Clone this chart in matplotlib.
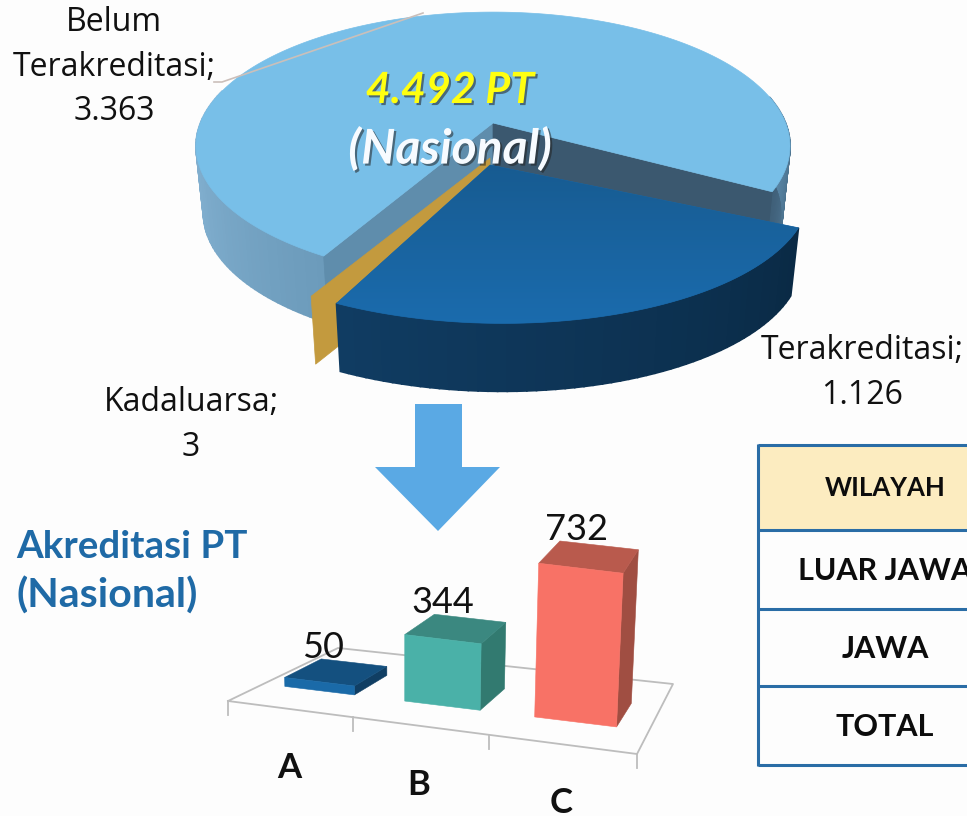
import numpy as np
import matplotlib
matplotlib.use('Agg')
import matplotlib.pyplot as plt
import matplotlib.patheffects as pe
from matplotlib.patches import Polygon

# Pie values (jumlah PT)
pie_names = ['Belum\nTerakreditasi;', 'Terakreditasi;', 'Kadaluarsa;']
pie_shown = ['3.363', '1.126', '3']
belum, terakreditasi, kadaluarsa = 3363, 1126, 3

# Bar values (peringkat akreditasi)
bar_categories = ['A', 'B', 'C']
bar_values = [50, 344, 732]

# Table (only the first column is inside the picture)
table_rows = ['WILAYAH', 'LUAR JAWA', 'JAWA', 'TOTAL']

TEXT_FONT = ['Open Sans', 'DejaVu Sans']
BOLD_FONT = ['Lato', 'DejaVu Sans']

fig = plt.figure(figsize=(9.67, 8.16), dpi=100, facecolor='#fdfdfd')
ax = fig.add_axes([0, 0, 1, 1])
ax.set_xlim(0, 967)
ax.set_ylim(816, 0)
ax.axis('off')


def disc_point(theta, frame):
    """Project a point on the unit circle (degrees) into the picture"""
    x0, y0, a, b, c, d, k = frame
    u = np.cos(np.radians(theta))
    v = np.sin(np.radians(theta))
    w = 1 + k * v
    return np.column_stack([x0 + (a * u + b * v) / w, y0 + (c * u + d * v) / w])


def extrude(points, x0, depth, shrink=0.975):
    out = np.array(points, dtype=float)
    out[:, 0] = x0 + (out[:, 0] - x0) * shrink
    out[:, 1] = out[:, 1] + depth
    return out


def draw_side(frame, t1, t2, depth, col1, col2, z):
    """Outer wall of a wedge, drawn as small quads for the shading"""
    angles = np.linspace(t1, t2, 60)
    top = disc_point(angles, frame)
    bottom = extrude(top, frame[0], depth)
    c1 = np.array(matplotlib.colors.to_rgb(col1))
    c2 = np.array(matplotlib.colors.to_rgb(col2))
    for i in range(len(angles) - 1):
        col = c1 + (c2 - c1) * i / (len(angles) - 2)
        quad = [top[i], top[i + 1], bottom[i + 1], bottom[i]]
        ax.add_patch(Polygon(quad, closed=True, fc=col, ec=col, lw=1.2, zorder=z))


def draw_cut(frame, theta, depth, color, z):
    """Flat cut face between the apex and the rim"""
    apex = np.array([[frame[0], frame[1]]])
    rim = disc_point(np.array([theta]), frame)
    low = extrude(np.vstack([rim, apex]), frame[0], depth)
    pts = np.vstack([apex, rim, low])
    ax.add_patch(Polygon(pts, closed=True, fc=color, ec=color, lw=0.5, zorder=z))


def draw_top(frame, t1, t2, color, z):
    angles = np.linspace(t1, t2, 200)
    pts = np.vstack([[frame[0], frame[1]], disc_point(angles, frame)])
    return ax.add_patch(Polygon(pts, closed=True, fc=color, ec=color, lw=0.5, zorder=z))


# wedge angles come from the values
total = belum + terakreditasi + kadaluarsa
start = -29.0
light_end = start + belum / total * 360
gold_end = light_end + kadaluarsa / total * 360
dark_end = gold_end + terakreditasi / total * 360

light_frame = (493, 123, 292.6, 0, 0, -130, 0.172)
gold_frame = (490, 158, 309, 0, 0, -135, 0.172)
dark_frame = (490, 165, 310, -24, -6.8, -131, 0.172)
DEPTH = 67

# light slice
draw_side(light_frame, 165, light_end, DEPTH, '#8fbcdc', '#6c9bbb', 1)
draw_side(light_frame, start + 360, 372, DEPTH, '#3f5f78', '#5f8fb0', 1)
draw_cut(light_frame, light_end, DEPTH, '#5f8dac', 2)
draw_cut(light_frame, start, DEPTH, '#3b586f', 2)
draw_top(light_frame, start, light_end, '#78bfe8', 3)

# gold sliver, only its cut face shows
draw_cut(gold_frame, light_end, DEPTH + 1, '#c39a3e', 4)

# dark slice
draw_side(dark_frame, gold_end, dark_end, DEPTH + 1, '#103c62', '#0a2a45', 5)
dark_top = draw_top(dark_frame, gold_end, dark_end, '#1a66a4', 6)
shade = np.linspace(0, 1, 64).reshape(-1, 1)
cmap = matplotlib.colors.LinearSegmentedColormap.from_list('d', ['#175a8f', '#1b6db0'])
im = ax.imshow(shade, extent=(300, 810, 340, 150), cmap=cmap, aspect='auto', zorder=6.5)
im.set_clip_path(dark_top)
ax.set_xlim(0, 967)
ax.set_ylim(816, 0)

# leader line
ax.plot([214, 222, 423], [82, 82, 13], color='#cbbfba', lw=1.2, zorder=7)

# pie labels
label_kw = dict(family=TEXT_FONT, fontsize=23, color='#111111', ha='center', va='center',
                linespacing=1.47, zorder=10)
ax.text(114, 67, pie_names[0] + '\n' + pie_shown[0], **label_kw)
ax.text(862, 373, pie_names[1] + '\n' + pie_shown[1], **label_kw)
ax.text(191, 425, pie_names[2] + '\n' + pie_shown[2], **label_kw)

# centre text
shadow = [pe.SimplePatchShadow(offset=(1.5, -1.5), shadow_rgbFace='#222222', alpha=0.55), pe.Normal()]
ax.text(450, 90, '4.492 PT', family=BOLD_FONT, fontsize=31, fontweight='bold', fontstyle='italic',
        color='#ffff10', ha='center', va='center', zorder=11, path_effects=shadow)
ax.text(450, 149, '(Nasional)', family=BOLD_FONT, fontsize=34.5, fontweight='bold', fontstyle='italic',
        color='#f7fbff', ha='center', va='center', zorder=11, path_effects=shadow)

# arrow
ax.add_patch(Polygon([(415, 404), (462, 404), (462, 467), (500, 467), (438, 531), (375, 467), (415, 467)],
                     closed=True, fc='#5aa9e4', ec='none', zorder=3))

# left title
ax.text(16, 547, 'Akreditasi PT', family=BOLD_FONT, fontsize=27.7, fontweight='bold', color='#1f6aa6',
        ha='left', va='center')
ax.text(16, 596, '(Nasional)', family=BOLD_FONT, fontsize=29.5, fontweight='bold', color='#1f6aa6',
        ha='left', va='center')

# 3D bars, floor corners in the picture and a homography for the footprints
floor_src = np.array([[0, 0], [3, 0], [3, 1], [0, 1]], dtype=float)
floor_dst = np.array([[228, 701], [637, 754], [673, 684], [338, 648]], dtype=float)
rows = []
for (s, t), (px, py) in zip(floor_src, floor_dst):
    rows.append([s, t, 1, 0, 0, 0, -px * s, -px * t, -px])
    rows.append([0, 0, 0, s, t, 1, -py * s, -py * t, -py])
H = np.linalg.svd(np.array(rows))[2][-1].reshape(3, 3)


def floor_point(s, t):
    p = H @ np.array([s, t, 1.0])
    return p[:2] / p[2]


def top_of(p, h):
    lean = (p[0] - 403) * h * 0.0002
    return np.array([p[0] + lean, p[1] - h])


bar_front = ['#1a6aa8', '#4ab1a8', '#f87266']
bar_roof = ['#14507f', '#3b8880', '#b95a4d']
bar_right = ['#103e63', '#327a70', '#a04e42']
PX_PER_UNIT = 0.2
nominal_width = 78.0

# floor outline and ticks
outline = np.array([floor_point(0, 0), floor_point(3, 0), floor_point(3, 1), floor_point(0, 1), floor_point(0, 0)])
ax.plot(outline[:, 0], outline[:, 1], color='#bdbdbd', lw=1.3, zorder=1)
for i in range(4):
    p = floor_point(i, 0)
    ax.plot([p[0], p[0]], [p[1], p[1] + 14], color='#bdbdbd', lw=1.3, zorder=1)

for i, val in enumerate(bar_values):
    fl = floor_point(i + 0.185, 0.28)
    fr = floor_point(i + 0.775, 0.28)
    br = floor_point(i + 0.775, 0.62)
    bl = floor_point(i + 0.185, 0.62)
    h = val * PX_PER_UNIT * (fr[0] - fl[0]) / nominal_width
    tfl, tfr, tbr, tbl = top_of(fl, h), top_of(fr, h), top_of(br, h), top_of(bl, h)
    z = 4 + i
    ax.add_patch(Polygon([fr, br, tbr, tfr], closed=True, fc=bar_right[i], ec=bar_right[i], lw=0.4, zorder=z))
    ax.add_patch(Polygon([tfl, tfr, tbr, tbl], closed=True, fc=bar_roof[i], ec=bar_roof[i], lw=0.4, zorder=z))
    ax.add_patch(Polygon([fl, fr, tfr, tfl], closed=True, fc=bar_front[i], ec=bar_front[i], lw=0.4, zorder=z))
    ax.text(tfl[0] + 38, tbl[1] - 1, str(val), family=BOLD_FONT, fontsize=26, color='#111111',
            ha='center', va='baseline', zorder=9)
    tick_mid = floor_point(i + 0.5, 0)
    ax.text(tick_mid[0], tick_mid[1] + 59, bar_categories[i], family=BOLD_FONT, fontsize=25,
            fontweight='bold', color='#111111', ha='center', va='center', zorder=9)

# table
table_y = [445, 530, 609, 686, 765]
TABLE_BLUE = '#2a6da6'
ax.fill_between([758, 967], table_y[0], table_y[1], color='#fcecc0', lw=0, zorder=1)
for y in table_y:
    ax.plot([758, 967], [y, y], color=TABLE_BLUE, lw=2.2, zorder=2, solid_capstyle='butt')
ax.plot([758, 758], [table_y[0] - 1, table_y[-1] + 1], color=TABLE_BLUE, lw=2.2, zorder=2, solid_capstyle='butt')
for j, name in enumerate(table_rows):
    ymid = (table_y[j] + table_y[j + 1]) / 2 + (1 if j else 0)
    ax.text(885, ymid, name, family=BOLD_FONT, fontweight='bold', color='#0c0c0c',
            fontsize=18.5 if j == 0 else 22, ha='center', va='center', zorder=3)

fig.savefig('out.png', dpi=100, facecolor=fig.get_facecolor())
